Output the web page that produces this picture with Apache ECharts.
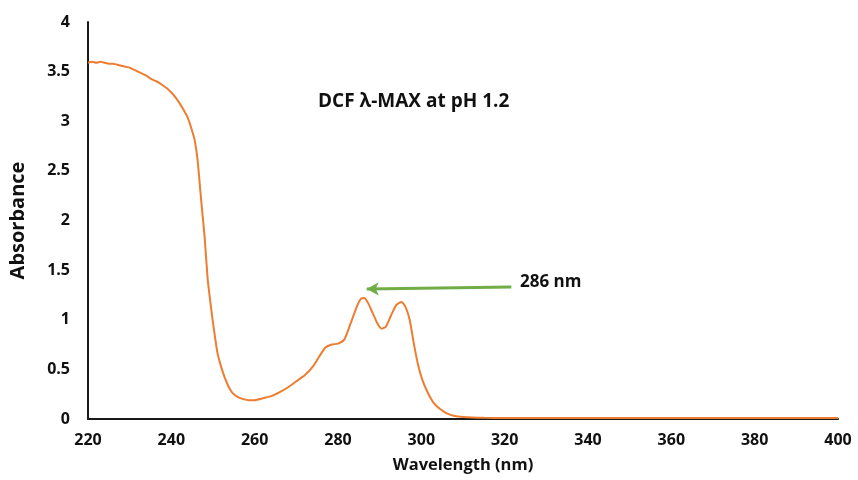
<!DOCTYPE html>
<html><head><meta charset="utf-8">
<script src="https://cdn.jsdelivr.net/npm/echarts@6/dist/echarts.min.js"></script>
<style>html,body{margin:0;padding:0;background:#fff}#c{width:858px;height:480px}</style>
</head><body><div id="c"></div>
<script>
var wavelengths = [220,221,222,223,224,225,226,227,228,229,230,231,232,233,234,235,236,237,238,239,240,241,242,243,244,244.8,245.6,246.3,247,247.5,248,248.7,249.3,249.9,250.5,251.1,252,252.8,253.7,254.7,256,257.3,258.5,260,262,264,266,268,270,272,274,275.5,277,278.5,280,281.5,283,284.5,285.5,286.3,287.2,288.3,289.5,290.5,291.5,292.8,294,295.2,296.2,297.2,298.2,299.2,300.2,301.5,303,304.5,306,308,310,315,320,330,340,350,360,370,380,390,400];
var absorbance = [3.59,3.60,3.59,3.60,3.59,3.58,3.58,3.57,3.56,3.55,3.54,3.52,3.50,3.48,3.46,3.43,3.41,3.39,3.36,3.33,3.29,3.24,3.18,3.11,3.03,2.93,2.81,2.61,2.28,2.05,1.83,1.42,1.20,1.00,0.82,0.66,0.52,0.42,0.33,0.26,0.22,0.20,0.19,0.19,0.21,0.23,0.27,0.32,0.38,0.44,0.53,0.63,0.72,0.75,0.76,0.80,0.96,1.13,1.21,1.22,1.17,1.07,0.96,0.91,0.93,1.05,1.15,1.18,1.13,1.00,0.76,0.55,0.40,0.27,0.16,0.10,0.06,0.03,0.02,0.012,0.01,0.01,0.01,0.01,0.01,0.01,0.01,0.01,0.01];
var xTicks = [220,240,260,280,300,320,340,360,380,400];
var yTicks = [0,0.5,1,1.5,2,2.5,3,3.5,4];
var arrowFrom = [321.6,1.33];
var arrowTo = [286.9,1.31];
var titleText = 'DCF \u03bb-MAX at pH 1.2';
var peakText = '286 nm';

var chart = echarts.init(document.getElementById('c'), null, {renderer:'canvas'});
var font = 'Open Sans';
chart.setOption({
  animation:false,
  backgroundColor:'#fff',
  grid:{left:85,right:20,top:22,bottom:61,containLabel:false},
  title:{text:titleText,left:313,top:87,textStyle:{fontFamily:font,fontWeight:'bold',fontSize:19,color:'#111'}},
  graphic:[{type:'text',left:520,top:274,style:{text:peakText,font:'bold 17px "Open Sans"',fill:'#111'}}],
  xAxis:{type:'value',min:220,max:400,interval:20,
    name:'Wavelength (nm)',nameLocation:'middle',nameGap:38,
    nameTextStyle:{fontFamily:font,fontWeight:'bold',fontSize:16.5,color:'#111'},
    axisLine:{lineStyle:{color:'#1a1a1a',width:2}},axisTick:{show:false},splitLine:{show:false},
    axisLabel:{fontFamily:font,fontWeight:'bold',fontSize:16,color:'#111',margin:13}},
  yAxis:{type:'value',min:0,max:4,interval:0.5,
    name:'Absorbance',nameLocation:'middle',nameGap:60,
    nameTextStyle:{fontFamily:font,fontWeight:'bold',fontSize:20,color:'#111'},
    axisLine:{show:true,lineStyle:{color:'#1a1a1a',width:2}},axisTick:{show:false},splitLine:{show:false},
    axisLabel:{fontFamily:font,fontWeight:'bold',fontSize:16,color:'#111',margin:18}},
  series:[{type:'line',data:wavelengths.map(function(w,i){return [w,absorbance[i]];}),
    showSymbol:false,smooth:0.2,lineStyle:{color:'#ED7D31',width:2},
    markLine:{silent:true,symbol:['none','arrow'],symbolSize:[10,12],
      lineStyle:{color:'#70AD47',width:3,type:'solid'},label:{show:false},
      data:[[{coord:arrowFrom},{coord:arrowTo}]]}}]
});
</script></body></html>
